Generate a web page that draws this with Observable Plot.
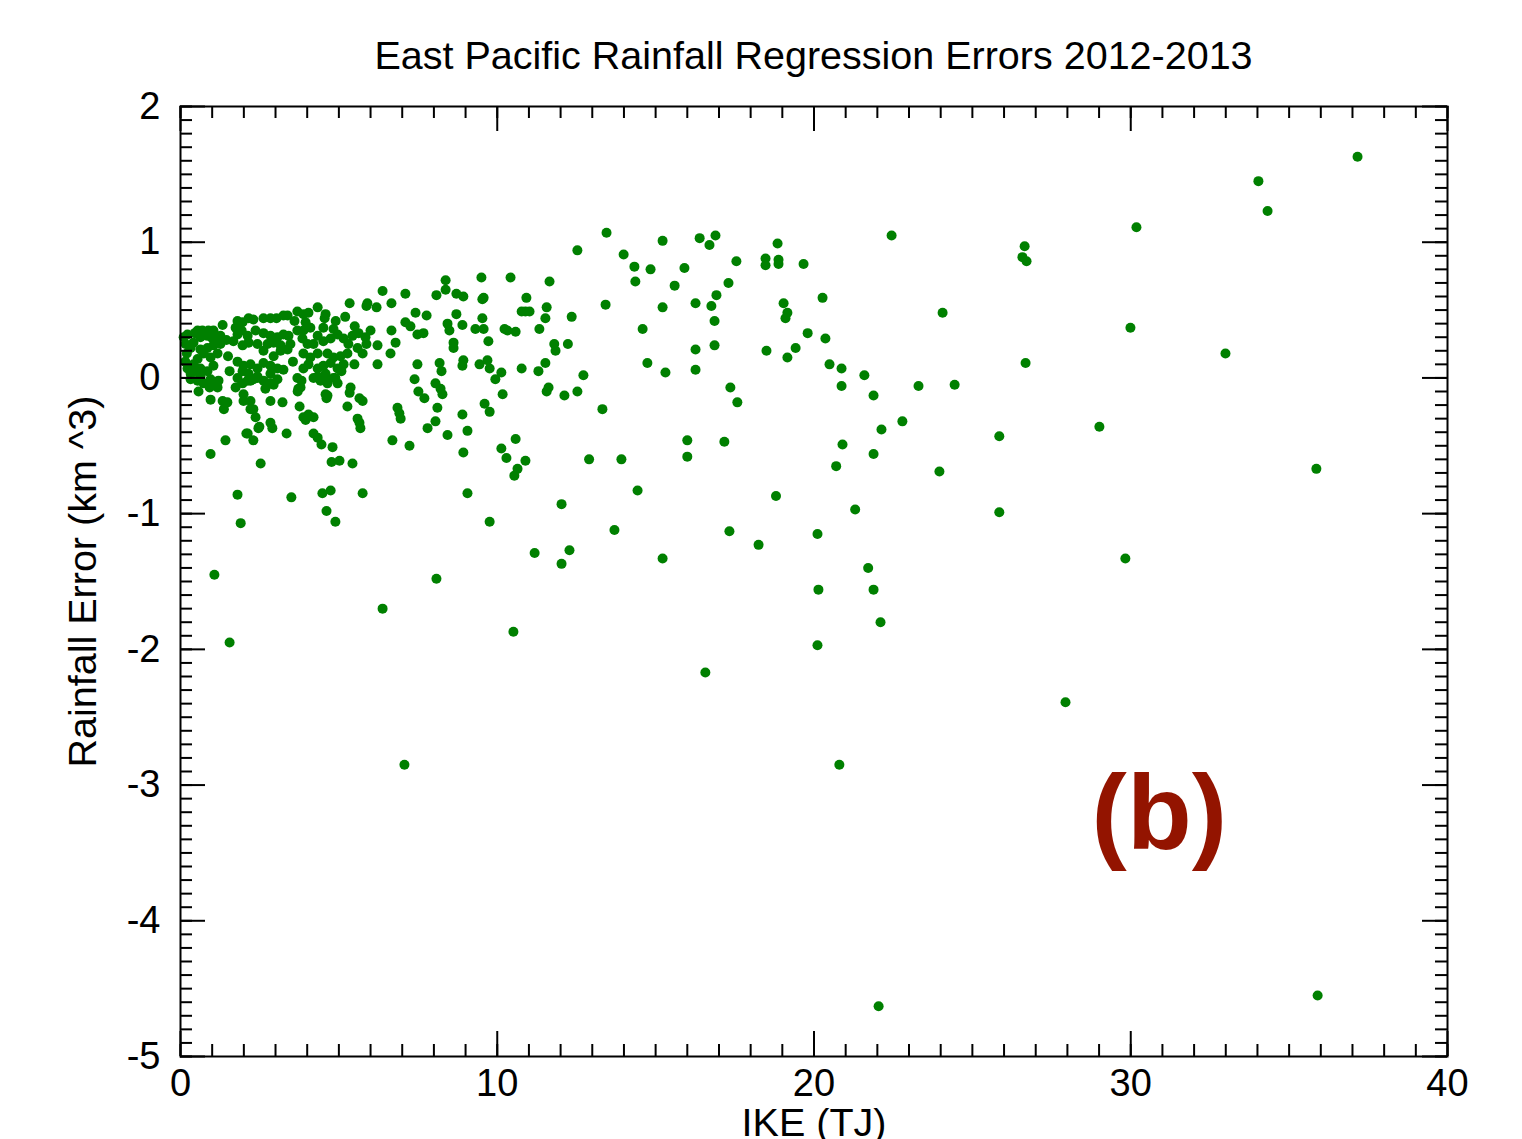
<!DOCTYPE html>
<html>
<head>
<meta charset="utf-8">
<script src="https://cdn.jsdelivr.net/npm/d3@7"></script>
<script src="https://cdn.jsdelivr.net/npm/@observablehq/plot@0.6"></script>
<style>
  html, body { margin: 0; padding: 0; background: #fff; }
  body { width: 1522px; height: 1139px; overflow: hidden; font-family: "Liberation Sans", Arial, Helvetica, sans-serif; }
  #title { height: 100px; box-sizing: border-box; padding-top: 35px; padding-left: 180px; width: 1447px; text-align: center; font-size: 39.5px; line-height: 40px; color: #000; white-space: nowrap; }
</style>
</head>
<body>
<div id="title">East Pacific Rainfall Regression Errors 2012-2013</div>
<div id="chart"></div>
<script>
// ---- data ----
const ike = [
  37.16, 34.03, 34.32, 30.18, 26.65, 26.58, 26.71, 24.06, 29.99, 32.99, 26.68, 23.30, 24.44, 22.79, 25.85, 29.01, 23.96, 35.86, 25.85, 29.83, 27.94, 35.90, 22.04, 22.45,
  13.45, 12.53, 15.22, 16.39, 16.89, 16.70, 18.85, 13.99, 14.33, 14.84, 15.91, 14.36, 17.55, 18.47, 18.47, 18.88, 18.88, 19.67, 15.60, 17.30, 16.92, 13.42, 15.22, 16.26, 16.76, 20.27,
  12.35, 16.86, 19.04, 19.16, 19.10, 14.59, 12.23, 16.26, 16.86, 18.50, 19.80, 20.36, 19.42, 19.16, 14.74, 15.31, 16.26, 12.72, 12.53, 12.12, 13.32, 17.36, 17.58, 20.49, 20.87, 20.87,
  21.59, 21.88, 22.13, 16.00, 17.17, 20.90, 21.88, 16.00, 20.70, 12.90, 13.92, 14.43, 18.80, 21.30, 13.70, 17.33, 20.11, 18.25, 12.28, 12.03, 15.22, 21.71, 20.14, 21.88, 22.10, 20.11, 16.57, 20.80,
  1.80, 3.50, 4.48, 4.74, 5.75, 9.06, 1.90, 4.61, 4.89, 9.76, 12.03, 11.18, 1.07, 8.08, 6.38, 10.51, 1.55, 7.07, 2.53, 4.77, 5.02, 5.43, 10.54, 10.64, 10.89,
  0.95, 1.42, 2.30, 2.08, 3.35, 2.49, 2.84, 2.90, 0.95, 1.37, 1.48, 1.33, 0.57, 1.17, 0.92, 1.99, 2.21, 2.37, 1.74, 3.22, 2.94, 2.43, 2.21, 3.76, 3.88, 3.95, 4.20, 4.33, 4.45, 4.80,
  3.70, 3.72, 3.79, 3.69, 3.88, 3.82, 4.20, 4.55, 4.58, 4.61, 5.37, 5.34, 5.27, 5.65, 5.75, 5.59, 5.65, 5.68, 5.08, 4.89, 5.49, 6.22, 6.63, 6.79, 6.22, 5.87, 6.00, 6.66,
  6.85, 6.91, 6.95, 6.69, 7.23, 7.42, 7.77, 7.10, 7.26, 7.48, 7.67, 7.48, 7.39, 7.51, 7.70, 8.05, 8.24, 8.18, 8.11, 8.21, 8.27, 7.80, 8.05, 8.43, 8.90, 8.93, 9.06,
  8.90, 8.71, 8.43, 8.49, 8.62, 8.62, 8.93, 8.90, 9.31, 9.57, 9.53, 9.57, 9.53, 9.72, 9.69, 9.44, 9.94, 10.13, 10.23, 10.58, 10.92, 10.89, 11.02, 10.77, 11.56, 11.52, 11.33, 11.65,
  11.80, 11.84, 11.52, 11.30, 10.77, 11.56, 11.62, 10.17, 10.13, 10.29, 10.58, 9.60, 9.76, 10.32, 9.76,
  6.38, 7.10, 8.08, 8.37, 8.37, 8.71, 8.93, 5.34, 5.90, 5.87, 6.19, 6.66, 9.50, 10.42, 4.33,
  1.33, 1.80, 1.96, 2.15, 2.30, 2.62, 2.84, 3.03, 3.25, 3.38, 3.69, 3.88, 4.04, 4.58, 4.55, 1.74, 1.93,
  0.22, 0.54, 0.69, 0.88, 1.04, 0.63, 0.85, 1.01, 1.17, 1.26, 1.80, 2.12, 2.37, 2.62, 2.84, 3.06, 3.25, 3.41, 3.69, 3.88, 4.10, 4.33, 4.51, 4.83,
  0.16, 0.41, 0.32, 0.63, 0.85, 1.04, 1.26, 0.73, 0.95, 0.54, 1.17, 1.67, 1.96, 2.15, 2.43, 2.75, 2.94, 3.16, 3.47, 3.85, 4.01, 4.20, 4.51, 4.74, 4.96, 5.15, 5.43, 5.62, 5.84,
  2.62, 2.94, 3.16, 3.38, 3.88, 4.10, 4.33, 4.64, 4.83, 5.05, 5.27, 5.59, 5.75,
  0.22, 0.41, 0.63, 0.85, 1.04, 0.32, 0.63, 1.80, 1.99, 2.21, 2.43, 2.62, 1.96, 2.15, 2.43, 2.84, 3.06, 2.84, 4.04, 4.33, 4.51, 4.74, 4.96, 5.15, 4.33, 4.58, 4.83,
  0.32, 0.54, 0.73, 0.95, 1.04, 1.80, 1.96, 2.12, 2.30, 2.62, 2.84, 2.68, 3.06, 4.42, 4.64, 4.96, 1.99, 2.21, 2.30, 2.84, 4.64, 2.46, 4.04, 4.20, 2.12,
  0.10, 0.20, 0.15, 0.45, 1.50, 1.55, 1.20, 0.50, 1.45, 3.55, 3.25, 3.60, 3.95, 5.30, 5.50, 4.90, 5.20
];
const rainError = [
  1.63, 1.45, 1.23, 1.11, 0.97, 0.89, 0.86, 0.48, 0.37, 0.18, 0.11, -0.06, -0.05, -0.32, -0.43, -0.36, -0.69, -0.67, -0.99, -1.33, -2.39, -4.55, -4.63, 1.05,
  1.07, 0.94, 1.01, 1.03, 1.05, 0.98, 0.99, 0.91, 0.82, 0.80, 0.81, 0.71, 0.86, 0.88, 0.83, 0.87, 0.84, 0.84, 0.68, 0.70, 0.61, 0.54, 0.52, 0.55, 0.53, 0.59,
  0.45, 0.42, 0.55, 0.48, 0.44, 0.36, 0.25, 0.21, 0.24, 0.20, 0.33, 0.29, 0.22, 0.15, 0.11, 0.04, 0.06, 0.02, -0.10, -0.13, -0.23, -0.07, -0.18, 0.10, 0.07, -0.06,
  0.02, -0.13, -0.38, -0.46, -0.47, -0.49, -0.56, -0.58, -0.65, -0.60, -0.60, -0.83, -0.87, -0.97, -1.12, -1.13, -1.15, -1.23, -1.27, -1.37, -1.33, -1.40, -1.56, -1.56, -1.80, -1.97, -2.17, -2.85,
  -0.86, -0.88, -0.85, -0.83, -0.85, -0.85, -1.07, -0.98, -1.06, -1.06, -0.93, -1.29, -1.45, -1.48, -1.70, -1.87, -1.95, -2.85, -0.63, -0.62, -0.61, -0.63, -0.72, -0.67, -0.61,
  -0.56, -0.46, -0.46, -0.41, -0.41, -0.36, -0.33, -0.37, -0.16, -0.23, -0.18, -0.17, -0.10, -0.07, -0.07, -0.17, -0.23, -0.29, -0.07, -0.18, -0.05, 0.00, -0.02, -0.21, -0.29, -0.31, -0.41, -0.44, -0.49, -0.51,
  -0.10, -0.08, -0.07, 0.00, 0.07, -0.02, 0.00, -0.01, -0.12, -0.15, -0.07, -0.11, -0.21, -0.15, -0.17, -0.30, -0.33, -0.37, 0.05, 0.00, 0.10, 0.10, 0.18, 0.26, 0.24, 0.25, 0.35, 0.35,
  -0.22, -0.26, -0.30, -0.46, -0.50, 0.48, 0.46, 0.41, 0.38, 0.32, 0.33, 0.10, -0.01, -0.10, -0.15, -0.04, 0.05, 0.11, -0.22, -0.08, -0.12, -0.37, -0.32, -0.42, -0.27, -0.55, -0.39,
  0.39, 0.47, 0.40, 0.35, 0.26, 0.22, 0.13, 0.09, 0.36, 0.36, 0.44, 0.59, 0.58, 0.27, 0.13, 0.10, -0.01, 0.04, 0.36, 0.34, 0.59, 0.49, 0.49, 0.49, 0.52, 0.44, 0.36, 0.71,
  0.25, 0.20, 0.11, 0.05, 0.07, -0.10, -0.07, -0.12, -0.52, -0.59, -0.45, -0.19, -0.25, 0.35, 0.07,
  0.64, 0.62, 0.61, 0.65, 0.72, 0.62, 0.60, 0.55, 0.55, 0.53, 0.52, 0.55, 0.74, 0.74, 0.52,
  0.39, 0.42, 0.41, 0.44, 0.43, 0.44, 0.44, 0.44, 0.46, 0.46, 0.49, 0.47, 0.48, 0.47, 0.44, 0.37, 0.35,
  0.32, 0.35, 0.35, 0.35, 0.35, 0.30, 0.31, 0.29, 0.30, 0.31, 0.32, 0.31, 0.35, 0.33, 0.31, 0.30, 0.32, 0.31, 0.35, 0.35, 0.37, 0.31, 0.37, 0.36,
  0.25, 0.26, 0.22, 0.21, 0.22, 0.24, 0.25, 0.18, 0.15, 0.14, 0.18, 0.27, 0.24, 0.26, 0.25, 0.25, 0.26, 0.24, 0.25, 0.29, 0.25, 0.25, 0.27, 0.29, 0.32, 0.29, 0.31, 0.33, 0.30,
  0.20, 0.16, 0.20, 0.21, 0.18, 0.15, 0.18, 0.18, 0.15, 0.16, 0.18, 0.22, 0.18,
  0.07, 0.10, 0.07, 0.05, 0.09, 0.03, 0.01, 0.12, 0.09, 0.10, 0.07, 0.11, 0.05, 0.03, 0.01, 0.09, 0.07, 0.03, 0.10, 0.07, 0.09, 0.11, 0.07, 0.10, 0.01, 0.03, 0.00,
  -0.01, -0.02, -0.04, -0.01, -0.04, 0.00, -0.04, -0.02, -0.01, -0.02, -0.04, -0.08, -0.01, -0.02, -0.04, -0.04, -0.12, -0.17, -0.23, -0.17, -0.13, -0.37, -0.27, -0.29, -0.41,
  0.30, 0.18, 0.12, 0.33, 0.16, 0.05, -0.02, 0.05, 0.28, 0.12, 0.06, 0.42, 0.41, 0.25, 0.38, 0.42, 0.45
];
const xTickLabels = [0, 10, 20, 30, 40];
const yTickLabels = [-5, -4, -3, -2, -1, 0, 1, 2];
const xMinorStep = 1;
const yMinorStep = 0.1;
const panelLabel = [{label: "(b)", ike: 30.9, err: -3.47}];

// ---- build ----
const points = ike.map((x, i) => ({ike: x, err: rainError[i]}));
const xMinor = d3.range(0, 40 + 1e-9, xMinorStep).map(v => +v.toFixed(4));
const yMinor = d3.range(-5, 2 + 1e-9, yMinorStep).map(v => +v.toFixed(4));

const W = 1522, H = 1039;
const mL = 180, mR = 75, mT = 6, mB = 83;
const pw = W - mL - mR, ph = H - mT - mB;
const minorLen = 12, majorLen = 25;

const font = '"Liberation Sans", Arial, Helvetica, sans-serif';

const chart = Plot.plot({
  width: W,
  height: H,
  marginLeft: mL, marginRight: mR, marginTop: mT, marginBottom: mB,
  style: {fontFamily: font, fontSize: "38px", color: "#000", background: "#fff", overflow: "visible"},
  x: {domain: [0, 40]},
  y: {domain: [-5, 2]},
  marks: [
    Plot.dot(points, {x: "ike", y: "err", r: 5, fill: "#008000", stroke: "none"}),
    // minor ticks (inward, all four sides)
    Plot.ruleX(xMinor, {x: d => d, insetTop: ph - minorLen, stroke: "#000", strokeWidth: 2}),
    Plot.ruleX(xMinor, {x: d => d, insetBottom: ph - minorLen, stroke: "#000", strokeWidth: 2}),
    Plot.ruleY(yMinor, {y: d => d, insetRight: pw - minorLen, stroke: "#000", strokeWidth: 2}),
    Plot.ruleY(yMinor, {y: d => d, insetLeft: pw - minorLen, stroke: "#000", strokeWidth: 2}),
    // major ticks
    Plot.ruleX(xTickLabels, {x: d => d, insetTop: ph - majorLen, stroke: "#000", strokeWidth: 2}),
    Plot.ruleX(xTickLabels, {x: d => d, insetBottom: ph - majorLen, stroke: "#000", strokeWidth: 2}),
    Plot.ruleY(yTickLabels, {y: d => d, insetRight: pw - majorLen, stroke: "#000", strokeWidth: 2}),
    Plot.ruleY(yTickLabels, {y: d => d, insetLeft: pw - majorLen, stroke: "#000", strokeWidth: 2}),
    Plot.frame({stroke: "#000", strokeWidth: 2}),
    Plot.axisX({ticks: xTickLabels, tickSize: 0, tickPadding: 13, tickFormat: d => String(d), fontSize: 38,
      label: null}),
    Plot.axisY({ticks: yTickLabels, tickSize: 0, tickPadding: 20, tickFormat: d => String(d), fontSize: 38,
      label: null}),
    Plot.text(["IKE (TJ)"], {frameAnchor: "bottom", text: d => d, dy: 79, lineAnchor: "bottom", fontSize: 39.5, fill: "#000"}),
    Plot.text(["Rainfall Error (km ^3)"], {frameAnchor: "left", text: d => d, dx: -97, rotate: -90, textAnchor: "middle", lineAnchor: "middle", fontSize: 39.5, fill: "#000"}),
    Plot.text(panelLabel, {x: "ike", y: "err", text: "label", fill: "#931400", fontSize: 106, fontWeight: "bold", textAnchor: "middle", lineAnchor: "bottom"})
  ]
});
document.getElementById("chart").appendChild(chart);
</script>
</body>
</html>
